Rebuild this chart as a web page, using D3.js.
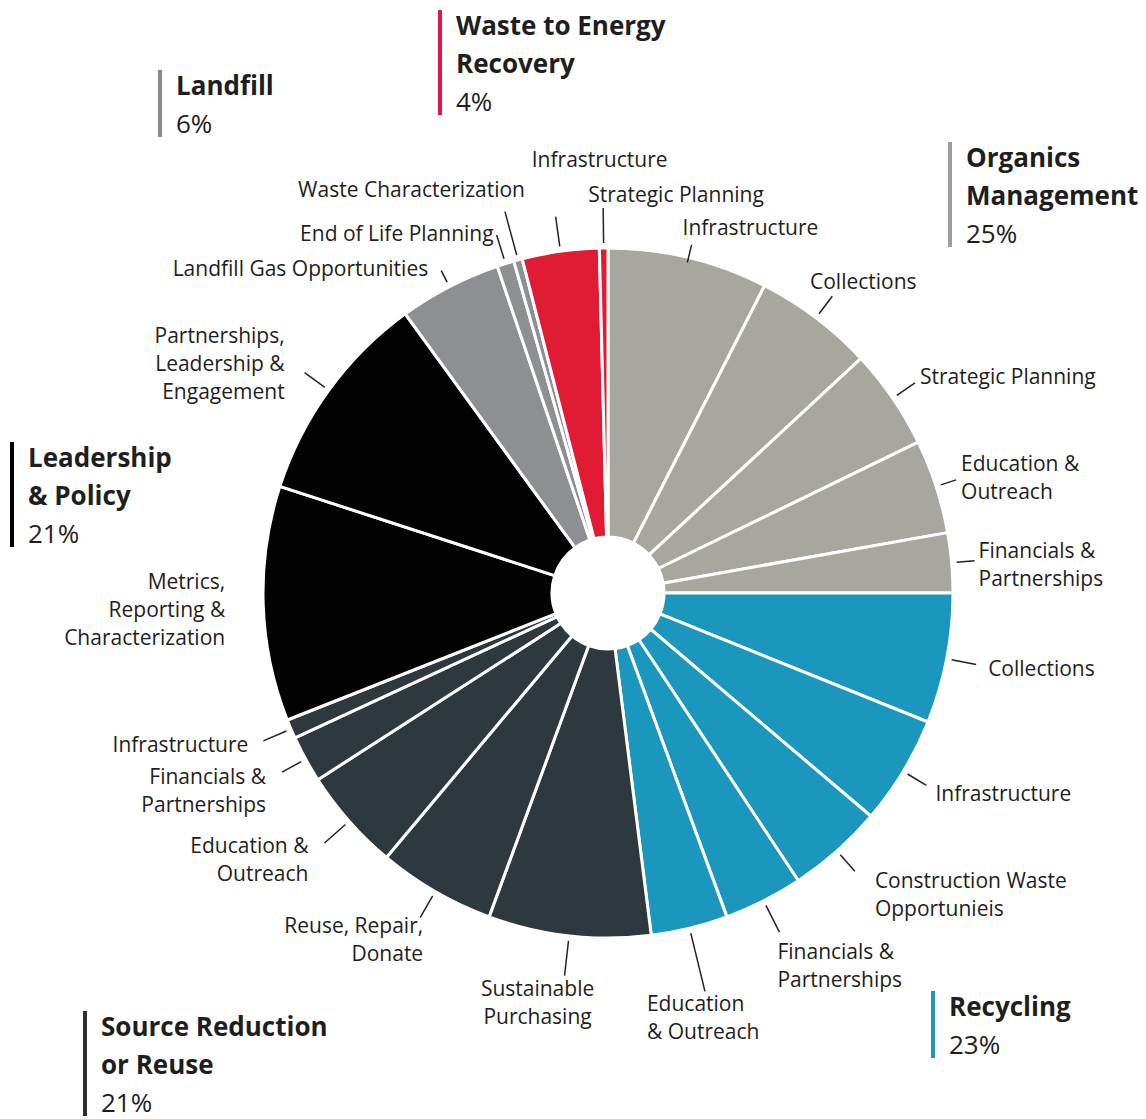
<!DOCTYPE html>
<head>
<meta charset="utf-8">
<script src="https://d3js.org/d3.v7.min.js"></script>
<style>
body { margin: 0; background-color: #fff; }
text { font-family: "Open Sans", Lato, sans-serif; fill: #1e1e1e; }
.sub-label { font-size: 21px; }
.head-title { font-size: 26px; font-weight: bold; }
.head-share { font-size: 26px; }
</style>
</head>
<body>
<div id="chart"></div>
<script>

// Categories (clockwise from 12 o'clock) and their total share in %
const categories = ["Organics Management", "Recycling", "Source Reduction or Reuse",
                    "Leadership & Policy", "Landfill", "Waste to Energy Recovery"];
const categoryShares = [25, 23, 21, 21, 6, 4];
const headerLines = [["Organics", "Management"], ["Recycling"], ["Source Reduction", "or Reuse"],
                     ["Leadership", "& Policy"], ["Landfill"], ["Waste to Energy", "Recovery"]];

// Sub-slices: which category they belong to, their label, their share in %
const subCategory = [0, 0, 0, 0, 0,
                     1, 1, 1, 1, 1,
                     2, 2, 2, 2, 2,
                     3, 3,
                     4, 4, 4,
                     5, 5];
const subLabels = [
  "Infrastructure", "Collections", "Strategic Planning", "Education &\nOutreach", "Financials &\nPartnerships",
  "Collections", "Infrastructure", "Construction Waste\nOpportunieis", "Financials &\nPartnerships", "Education\n& Outreach",
  "Sustainable\nPurchasing", "Reuse, Repair,\nDonate", "Education &\nOutreach", "Financials &\nPartnerships", "Infrastructure",
  "Metrics,\nReporting &\nCharacterization", "Partnerships,\nLeadership &\nEngagement",
  "Landfill Gas Opportunities", "End of Life Planning", "Waste Characterization",
  "Infrastructure", "Strategic Planning"
];
const subValues = [7.5, 5.6, 4.7, 4.4, 2.8,
                   6.1, 5.1, 4.5, 3.7, 3.6,
                   7.6, 5.5, 4.8, 2.2, 0.9,
                   11.0, 10.0,
                   4.8, 0.8, 0.4,
                   3.6, 0.4];

// ---- styling / layout (kept apart from the data) ----
const sliceColors = ["#a8a79f", "#1b97be", "#2d383f", "#030303", "#8d8f93", "#e11b33"];
const barColors   = ["#9d9d9b", "#1c9ab6", "#2e2e30", "#000000", "#8a8a8a", "#e0174a"];

// leader: r0 start radius, lead length; text block offset from leader end; anchor
const labelLayout = [
  {r0: 340, lead: 18, dx: -9,  dy: -17, anchor: "start"},
  {r0: 350, lead: 22, dx: 31,  dy: -15, anchor: "middle"},
  {r0: 350, lead: 22, dx: 5,   dy: -6,  anchor: "start"},
  {r0: 350, lead: 16, dx: 5,   dy: -2,  anchor: "start"},
  {r0: 350, lead: 18, dx: 4,   dy: 4,   anchor: "start"},
  {r0: 350, lead: 25, dx: 12,  dy: 4,   anchor: "start"},
  {r0: 350, lead: 22, dx: 9,   dy: 8,   anchor: "start"},
  {r0: 350, lead: 22, dx: 20,  dy: 23,  anchor: "start"},
  {r0: 350, lead: 30, dx: -2,  dy: 34,  anchor: "start"},
  {r0: 350, lead: 60, dx: -58, dy: 26,  anchor: "start"},
  {r0: 350, lead: 35, dx: -27, dy: 27,  anchor: "middle"},
  {r0: 350, lead: 25, dx: 3,   dy: 22,  anchor: "end"},
  {r0: 350, lead: 28, dx: -16, dy: 17,  anchor: "end"},
  {r0: 350, lead: 22, dx: -16, dy: 18,  anchor: "end"},
  {r0: 350, lead: 25, dx: -15, dy: 4,   anchor: "end"},
  {r0: 350, lead: 0,  dx: -33, dy: 6,   anchor: "end"},
  {r0: 350, lead: 25, dx: -20, dy: -9,  anchor: "end"},
  {r0: 350, lead: 13, dx: -13, dy: -2,  anchor: "end"},
  {r0: 350, lead: 25, dx: -3,  dy: -1,  anchor: "end"},
  {r0: 350, lead: 45, dx: 20,  dy: -22, anchor: "end"},
  {r0: 350, lead: 30, dx: 44,  dy: -57, anchor: "middle"},
  {r0: 350, lead: 35, dx: -15, dy: -13, anchor: "start"}
];
// header block: bar x / first line centre y (text sits 16px right of bar)
const headerLayout = [
  {x: 950, y: 158}, {x: 933, y: 1007}, {x: 85, y: 1027},
  {x: 12, y: 458},  {x: 160, y: 86},   {x: 440, y: 26}
];

const width = 1146, height = 1119;
const cx = 608, cy = 593, outerR = 345, innerR = 56;
const lineH = 28, headLineH = 38;

const svg = d3.select("#chart").append("svg")
  .attr("width", width)
  .attr("height", height);

const rows = subValues.map((v, i) => ({value: v, label: subLabels[i], cat: subCategory[i], layout: labelLayout[i]}));

const pie = d3.pie().sort(null).value(d => d.value);
const arc = d3.arc().innerRadius(innerR).outerRadius(outerR);
const arcs = pie(rows);

const g = svg.append("g").attr("transform", "translate(" + cx + "," + cy + ")");

g.selectAll("path.slice")
  .data(arcs)
  .enter().append("path")
    .attr("class", "slice")
    .attr("d", arc)
    .style("fill", d => sliceColors[d.data.cat])
    .style("stroke", "#fff")
    .style("stroke-width", 3)
    .style("stroke-linejoin", "round");

// leader lines + labels
arcs.forEach(d => {
  const L = d.data.layout;
  const mid = (d.startAngle + d.endAngle) / 2;
  const p1 = d3.pointRadial(mid, L.r0);
  const p2 = d3.pointRadial(mid, L.r0 + L.lead);
  if (L.lead > 0) {
    g.append("line")
      .attr("x1", p1[0]).attr("y1", p1[1])
      .attr("x2", p2[0]).attr("y2", p2[1])
      .style("stroke", "#222")
      .style("stroke-width", 1.5);
  }
  const lines = d.data.label.split("\n");
  const t = g.append("text")
    .attr("class", "sub-label")
    .attr("text-anchor", L.anchor)
    .attr("x", p2[0] + L.dx)
    .attr("y", p2[1] + L.dy - (lines.length - 1) * lineH / 2);
  lines.forEach((s, k) => {
    t.append("tspan")
      .attr("x", p2[0] + L.dx)
      .attr("dy", k === 0 ? "0.35em" : lineH)
      .text(s);
  });
});

// category headers with coloured bars
categories.forEach((c, i) => {
  const H = headerLayout[i];
  const lines = headerLines[i].concat([categoryShares[i] + "%"]);
  const lastY = H.y + (lines.length - 1) * headLineH;
  svg.append("line")
    .attr("x1", H.x).attr("x2", H.x)
    .attr("y1", H.y - 16).attr("y2", lastY + 13)
    .style("stroke", barColors[i])
    .style("stroke-width", 4);
  lines.forEach((s, k) => {
    svg.append("text")
      .attr("class", k === lines.length - 1 ? "head-share" : "head-title")
      .attr("x", H.x + 16)
      .attr("y", H.y + k * headLineH)
      .attr("dy", "0.35em")
      .text(s);
  });
});

</script>
</body>
